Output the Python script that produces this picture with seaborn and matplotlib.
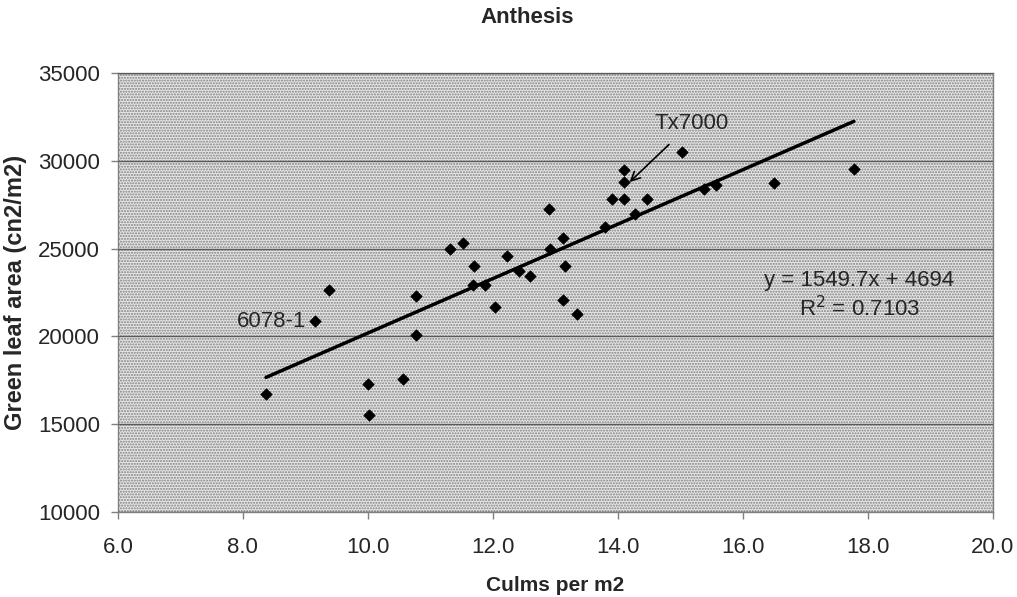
import numpy as np
import pandas as pd
import matplotlib
matplotlib.use("Agg")
import matplotlib.pyplot as plt
import seaborn as sns
from matplotlib.patches import Rectangle

# Data
culms = [8.37, 9.15, 9.37, 10.00, 10.02, 10.56, 10.77, 10.77, 11.32, 11.52,
         11.70, 11.68, 11.88, 12.04, 12.23, 12.42, 12.59, 12.90, 12.91, 13.13,
         13.16, 13.13, 13.34, 13.79, 13.91, 14.10, 14.47, 14.27, 14.10, 14.10,
         15.03, 15.38, 15.57, 16.50, 17.78]
leaf_area = [16700, 20850, 22650, 17300, 15500, 17600, 22300, 20100, 25000, 25300,
             24000, 22900, 22900, 21700, 24600, 23700, 23450, 27250, 25000, 25600,
             24000, 22100, 21300, 26250, 27800, 27800, 27800, 26950, 28800, 29450,
             30500, 28400, 28600, 28750, 29550]

# Trend line from the chart's equation
slope = 1549.7
intercept = 4694
r_squared = 0.7103

x_ticks = [6.0, 8.0, 10.0, 12.0, 14.0, 16.0, 18.0, 20.0]
y_ticks = [10000, 15000, 20000, 25000, 30000, 35000]

df = pd.DataFrame({"culms": culms, "leaf_area": leaf_area})
trend_x = np.array([min(culms), max(culms)])
trend = pd.DataFrame({"x": trend_x, "y": slope * trend_x + intercept})

sns.set_theme(style="white")
plt.rcParams['font.family'] = ['Liberation Sans', 'DejaVu Sans']

fig = plt.figure(figsize=(10.17, 5.97), dpi=100)
ax = fig.add_axes([0.116, 0.1424, 0.86, 0.7353])

# stippled plot area
ax.set_facecolor("#e6e6e6")
ax.add_patch(Rectangle((0, 0), 1, 1, transform=ax.transAxes, facecolor="none",
                       edgecolor="#808080", hatch="......", linewidth=0, zorder=0))

sns.lineplot(data=trend, x="x", y="y", color="black", linewidth=2.5, ax=ax, zorder=3)
sns.scatterplot(data=df, x="culms", y="leaf_area", marker="D", s=34, color="black",
                edgecolor="black", linewidth=0.5, ax=ax, zorder=4)

ax.set_xlim(6, 20)
ax.set_ylim(10000, 35000)
ax.set_xticks(x_ticks)
ax.set_xticklabels([f"{t:.1f}" for t in x_ticks])
ax.set_yticks(y_ticks)
ax.set_yticklabels([str(t) for t in y_ticks])
ax.tick_params(axis="both", labelsize=16, length=5, width=1, color="#808080",
               direction="out", bottom=True, left=True)
ax.tick_params(axis="x", pad=13)
ax.tick_params(axis="y", pad=8)

ax.yaxis.grid(True, color="#5a5a5a", linewidth=1)
ax.set_axisbelow(False)
for g in ax.get_ygridlines():
    g.set_zorder(1)
for s in ax.spines.values():
    s.set_color("#808080")
    s.set_linewidth(1)

ax.set_xlabel("Culms per m2", fontsize=15, fontweight="bold", labelpad=13)
ax.set_ylabel("Green leaf area (cn2/m2)", fontsize=17, fontweight="bold", labelpad=8)
fig.text(0.518, 0.97, "Anthesis", ha="center", va="center", fontsize=16, fontweight="bold")

ax.text(9.01, 20850, "6078-1", ha="right", va="center", fontsize=16)
ax.annotate("Tx7000", xy=(14.19, 28790), xytext=(15.18, 32150),
            ha="center", va="center", fontsize=16,
            arrowprops=dict(arrowstyle="->", color="black", lw=1.2,
                            shrinkA=8, shrinkB=0))
ax.text(17.87, 22350, f"y = {slope}x + {intercept}\nR$^2$ = {r_squared}",
        ha="center", va="center", fontsize=16, linespacing=1.25)

fig.savefig("out.png", dpi=100)
